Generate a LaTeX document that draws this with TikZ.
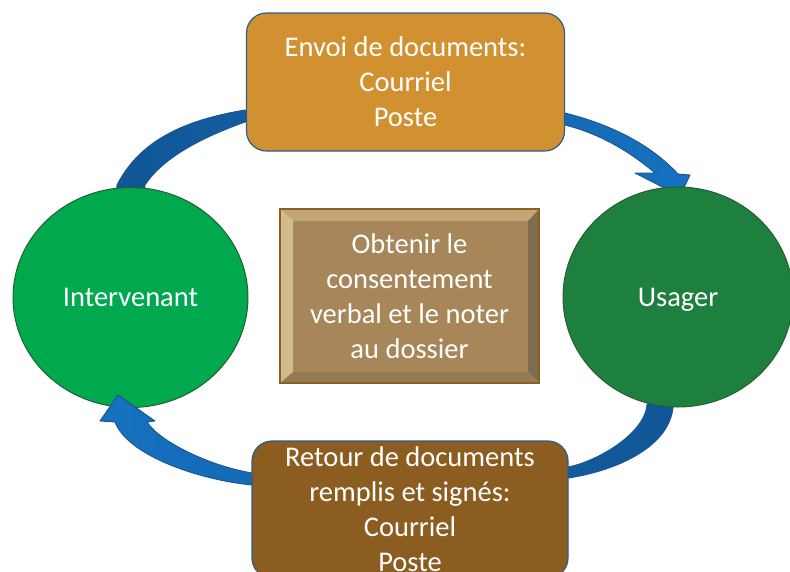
\documentclass[tikz,border=0pt]{standalone}
\usepackage{fontspec}
\setmainfont{Carlito}
\usetikzlibrary{shapes.geometric}
\definecolor{adark}{RGB}{17,86,150}
\definecolor{abright}{RGB}{21,113,192}
\definecolor{aline}{RGB}{28,84,145}
\definecolor{topfill}{RGB}{210,145,48}
\definecolor{botfill}{RGB}{140,93,32}
\definecolor{boxline}{RGB}{46,90,140}
\definecolor{lgreen}{RGB}{0,168,78}
\definecolor{dgreen}{RGB}{30,128,62}
\definecolor{gline}{RGB}{38,95,48}
\definecolor{bvmid}{RGB}{167,135,90}
\definecolor{bvtop}{RGB}{196,166,118}
\definecolor{bvleft}{RGB}{210,188,140}
\definecolor{bvright}{RGB}{126,108,78}
\definecolor{bvbot}{RGB}{150,122,82}
\definecolor{bvline}{RGB}{140,95,35}
\begin{document}
\begin{tikzpicture}[x=1pt,y=-1pt,
  txt/.style={text=white,align=center,font=\fontsize{28.5}{35}\selectfont},
  blob/.style={ellipse,draw=gline,line width=1pt,inner sep=0pt,minimum width=235pt,minimum height=220pt,txt,text depth=0pt},
  roundbox/.style={rectangle,rounded corners=20pt,draw=boxline,line width=1.2pt,inner sep=0pt,minimum width=318pt,minimum height=138pt,txt},
  blockarrow/.style={draw=aline,line width=0.9pt,line join=round}]
\useasboundingbox (0,0) rectangle (790,571);
% top arrow (Intervenant -> Usager)
\shadedraw[blockarrow,left color=adark,right color=abright]
  (114,215) -- (117,185) .. controls (140,140) and (185,120) .. (245,110)
  -- (565,113) .. controls (609,124) and (649.4,143.2) .. (678,174)
  -- (690,175) -- (680,196) -- (635,173) -- (655,173)
  .. controls (631,152.6) and (601,134) .. (565,125)
  -- (245,122) .. controls (206,136) and (164,156) .. (145,185)
  -- (144,215) -- cycle;
% left circle
\node[blob,fill=lgreen] (int) at (130.5,297.5) {Intervenant};
% bottom arrow (Usager -> Intervenant)
\shadedraw[blockarrow,left color=abright,right color=adark]
  (676,385) -- (673,408) .. controls (668,450) and (610,472) .. (568,478)
  -- (252,485) .. controls (200,480) and (128,456) .. (115,422)
  -- (100,421) -- (118,395) -- (155,421) -- (147,422)
  .. controls (160,442) and (210,466) .. (252,473)
  -- (568,467) .. controls (595,462) and (644,435) .. (647,405)
  -- (650,385) -- cycle;
% right circle
\node[blob,fill=dgreen,minimum width=230pt] (usa) at (678,297) {Usager};
% top and bottom boxes
\node[roundbox,fill=topfill] (env) at (405.5,82) {Envoi de documents:\\Courriel\\Poste};
\node[roundbox,fill=botfill,minimum width=316pt,minimum height=137pt] (ret) at (410,509.5) {Retour de documents\\remplis et signés:\\Courriel\\Poste};
% central bevel box
\coordinate (o1) at (280,209); \coordinate (o2) at (539,209);
\coordinate (o3) at (539,383); \coordinate (o4) at (280,383);
\coordinate (i1) at (293,221); \coordinate (i2) at (528,221);
\coordinate (i3) at (528,372); \coordinate (i4) at (293,372);
\fill[bvmid] (i1) rectangle (i3);
\fill[bvtop] (o1) -- (o2) -- (i2) -- (i1) -- cycle;
\fill[bvleft] (o1) -- (i1) -- (i4) -- (o4) -- cycle;
\fill[bvright] (o2) -- (o3) -- (i3) -- (i2) -- cycle;
\fill[bvbot] (o4) -- (o3) -- (i3) -- (i4) -- cycle;
\draw[bvline,line width=1.2pt] (o1) rectangle (o3);
\node[txt] (mid) at (409.5,296) {Obtenir le\\consentement\\verbal et le noter\\au dossier};
\end{tikzpicture}
\end{document}
